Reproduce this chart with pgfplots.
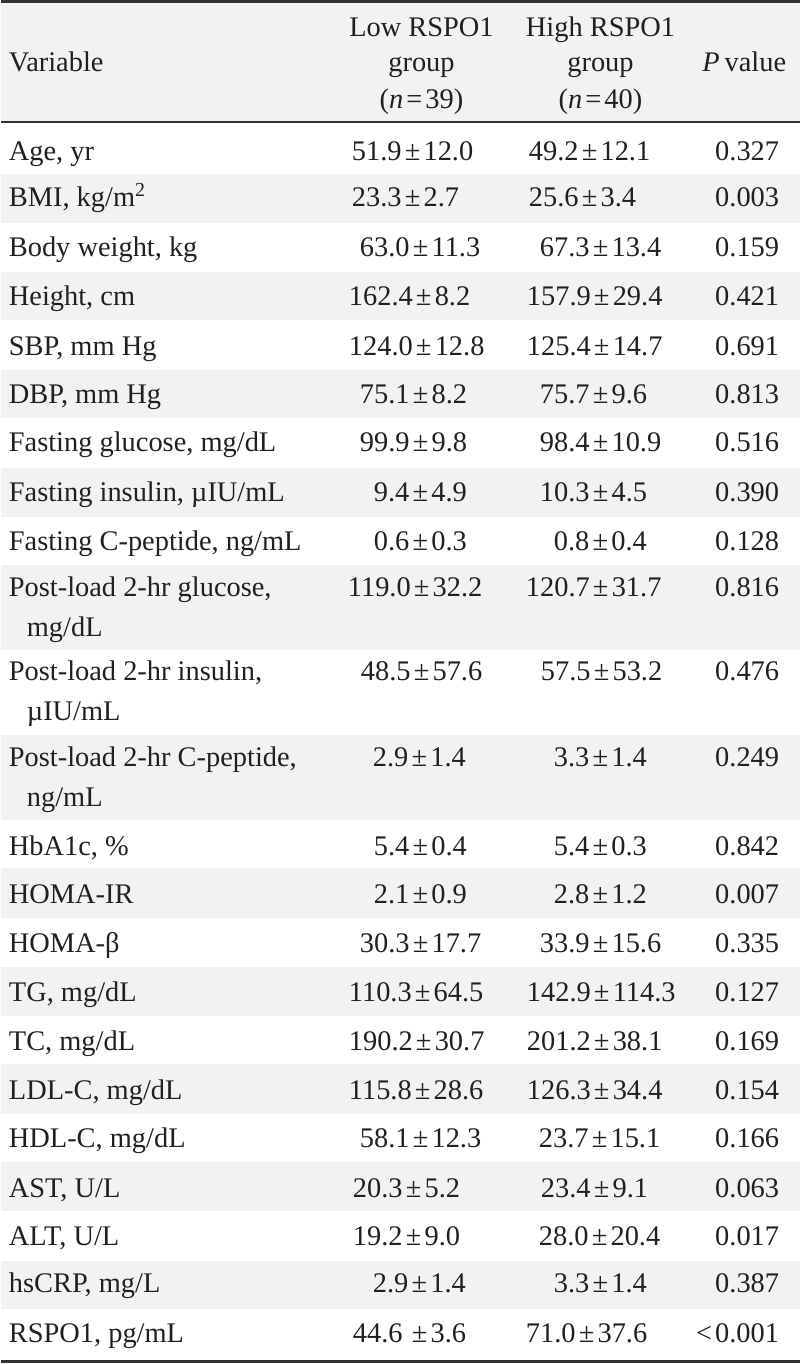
\documentclass[border=0pt]{standalone}
\usepackage{fontspec}
\setmainfont{Liberation Serif}
\usepackage{pgfplots}
\usepackage{pgfplotstable}
\pgfplotsset{compat=1.18}
\definecolor{txt}{HTML}{231F20}
\definecolor{band}{HTML}{F1F3F3}
\definecolor{rulec}{HTML}{333333}
\newcommand\pmm{\kern1.6pt±\kern1.6pt}
\newcommand\fs{\fontsize{14.2}{17}\selectfont}

\pgfplotstableread[col sep=semicolon,row sep=\\]{
y;var;lx;lo;hx;hi;p\\
152;Age, yr;350;51.9\pmm 12.0;527;49.2\pmm 12.1;0.327\\
198;BMI, kg/m\textsuperscript{2};350;23.3\pmm 2.7;527;25.6\pmm 3.4;0.003\\
248;Body weight, kg;358;63.0\pmm 11.3;538;67.3\pmm 13.4;0.159\\
297;Height, cm;347;162.4\pmm 8.2;525;157.9\pmm 29.4;0.421\\
347;SBP, mm Hg;347;124.0\pmm 12.8;525;125.4\pmm 14.7;0.691\\
395;DBP, mm Hg;358;75.1\pmm 8.2;538;75.7\pmm 9.6;0.813\\
443;Fasting glucose, mg/dL;358;99.9\pmm 9.8;538;98.4\pmm 10.9;0.516\\
493;Fasting insulin, µIU/mL;372;9.4\pmm 4.9;538;10.3\pmm 4.5;0.390\\
542;Fasting C-peptide, ng/mL;372;0.6\pmm 0.3;552;0.8\pmm 0.4;0.128\\
588;Post-load 2-hr glucose,;346;119.0\pmm 32.2;524;120.7\pmm 31.7;0.816\\
672;Post-load 2-hr insulin,;359;48.5\pmm 57.6;539;57.5\pmm 53.2;0.476\\
758;Post-load 2-hr C-peptide,;371;2.9\pmm 1.4;552;3.3\pmm 1.4;0.249\\
847;HbA1c, \%;372;5.4\pmm 0.4;552;5.4\pmm 0.3;0.842\\
895;HOMA-IR;372;2.1\pmm 0.9;552;2.8\pmm 1.2;0.007\\
944;HOMA-β;358;30.3\pmm 17.7;538;33.9\pmm 15.6;0.335\\
993;TG, mg/dL;347;110.3\pmm 64.5;525;142.9\pmm 114.3;0.127\\
1042;TC, mg/dL;347;190.2\pmm 30.7;525;201.2\pmm 38.1;0.169\\
1091;LDL-C, mg/dL;347;115.8\pmm 28.6;525;126.3\pmm 34.4;0.154\\
1139;HDL-C, mg/dL;358;58.1\pmm 12.3;537;23.7\pmm 15.1;0.166\\
1189;AST, U/L;351;20.3\pmm 5.2;539;23.4\pmm 9.1;0.063\\
1237;ALT, U/L;351;19.2\pmm 9.0;537;28.0\pmm 20.4;0.017\\
1284;hsCRP, mg/L;371;2.9\pmm 1.4;552;3.3\pmm 1.4;0.387\\
1334;RSPO1, pg/mL;351;44.6\kern3pt\pmm 3.6;524;71.0\pmm 37.6;<\kern1.5pt0.001\\
}\rows

\pgfplotstableread[col sep=semicolon,row sep=\\]{
y;t\\
628;mg/dL\\
712;µIU/mL\\
798;ng/mL\\
}\cont

\pgfplotstableread[col sep=semicolon,row sep=\\]{
x;y;t\\
420;28;Low RSPO1\\
420;63;group\\
420;100;(\textit{n}\kern1.5pt=\kern1.5pt39)\\
599;28;High RSPO1\\
599;63;group\\
599;100;(\textit{n}\kern1.5pt=\kern1.5pt40)\\
}\hdr

\begin{document}
\begin{tikzpicture}
\begin{axis}[
  scale only axis, width=399pt, height=682pt,
  xmin=0, xmax=798, ymin=0, ymax=1364, y dir=reverse,
  hide axis, clip=false,
  every node near coord/.append style={font=\fs, text=txt, inner sep=0pt, yshift=-2pt},
]
% invisible frame for the bounding box
\addplot[draw=none, forget plot] coordinates {(0,0) (798,1364)};
% shaded bands (header and alternate rows)
\addplot[fill=band, draw=none] coordinates {(0,3) (798,3) (798,122) (0,122)} -- cycle;
\addplot[fill=band, draw=none] coordinates {(0,174) (798,174) (798,223) (0,223)} -- cycle;
\addplot[fill=band, draw=none] coordinates {(0,272) (798,272) (798,320) (0,320)} -- cycle;
\addplot[fill=band, draw=none] coordinates {(0,370) (798,370) (798,418) (0,418)} -- cycle;
\addplot[fill=band, draw=none] coordinates {(0,468) (798,468) (798,517) (0,517)} -- cycle;
\addplot[fill=band, draw=none] coordinates {(0,565) (798,565) (798,650) (0,650)} -- cycle;
\addplot[fill=band, draw=none] coordinates {(0,735) (798,735) (798,820) (0,820)} -- cycle;
\addplot[fill=band, draw=none] coordinates {(0,868) (798,868) (798,918) (0,918)} -- cycle;
\addplot[fill=band, draw=none] coordinates {(0,967) (798,967) (798,1016) (0,1016)} -- cycle;
\addplot[fill=band, draw=none] coordinates {(0,1064) (798,1064) (798,1114) (0,1114)} -- cycle;
\addplot[fill=band, draw=none] coordinates {(0,1162) (798,1162) (798,1211) (0,1211)} -- cycle;
\addplot[fill=band, draw=none] coordinates {(0,1261) (798,1261) (798,1309) (0,1309)} -- cycle;
% rules
\addplot[draw=rulec, line width=1.5pt] coordinates {(0,1.5) (798,1.5)};
\addplot[draw=rulec, line width=0.65pt] coordinates {(0,122) (798,122)};
\addplot[draw=rulec, line width=1.5pt] coordinates {(0,1361.5) (798,1361.5)};
% header
\addplot[draw=none, nodes near coords, point meta=explicit symbolic,
  every node near coord/.append style={anchor=mid}] table[x=x, y=y, meta=t] {\hdr};
\addplot[draw=none, nodes near coords, point meta=explicit symbolic,
  every node near coord/.append style={anchor=mid west}] coordinates {(7,63) [Variable]};
\addplot[draw=none, nodes near coords, point meta=explicit symbolic,
  every node near coord/.append style={anchor=mid east}] coordinates {(785,63) [\textit{P}\kern2.5pt value]};
% body
\addplot[draw=none, nodes near coords, point meta=explicit symbolic,
  every node near coord/.append style={anchor=mid west}] table[x expr=7, y=y, meta=var] {\rows};
\addplot[draw=none, nodes near coords, point meta=explicit symbolic,
  every node near coord/.append style={anchor=mid west}] table[x expr=25, y=y, meta=t] {\cont};
\addplot[draw=none, nodes near coords, point meta=explicit symbolic,
  every node near coord/.append style={anchor=mid west}] table[x=lx, y=y, meta=lo] {\rows};
\addplot[draw=none, nodes near coords, point meta=explicit symbolic,
  every node near coord/.append style={anchor=mid west}] table[x=hx, y=y, meta=hi] {\rows};
\addplot[draw=none, nodes near coords, point meta=explicit symbolic,
  every node near coord/.append style={anchor=mid east}] table[x expr=778, y=y, meta=p] {\rows};
\end{axis}
\end{tikzpicture}
\end{document}
